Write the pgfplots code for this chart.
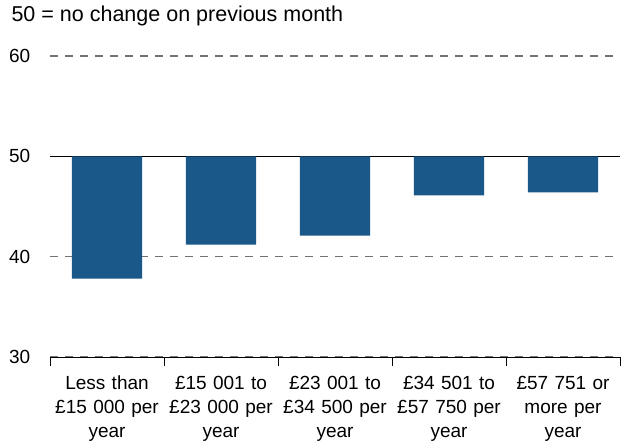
\documentclass[border=0pt]{standalone}
\usepackage{pgfplots}
\pgfplotsset{compat=1.18}
\usepackage{pgfplotstable}
\usepackage{fontspec}
\setmainfont{Liberation Sans}
\definecolor{barblue}{HTML}{1A5889}

% diffusion index by income band (50 = no change)
\pgfplotstableread{
i v
0 37.8
1 41.2
2 42.1
3 46.1
4 46.4
}\incomedata

\begin{document}
\begin{tikzpicture}
\begin{axis}[
    scale only axis,
    width=570bp, height=301bp,
    xmin=-0.5, xmax=4.5,
    ymin=-20, ymax=10,
    axis x line=bottom,
    axis y line=left,
    axis line style={-},
    y axis line style={draw=none},
    x axis line style={black, line width=0.8pt},
    clip=false,
    tick align=outside,
    xtick={0,...,4},
    xticklabels={
        {Less than\\£15 000 per\\year},
        {£15 001 to\\£23 000 per\\year},
        {£23 001 to\\£34 500 per\\year},
        {£34 501 to\\£57 750 per\\year},
        {£57 751 or\\more per\\year}},
    major x tick style={draw=none},
    minor xtick={-0.5,0.5,...,4.5},
    minor tick length=9bp,
    minor x tick style={black, line width=0.8pt},
    xticklabel style={align=center, text width=112bp,
        font=\fontsize{19bp}{24bp}\selectfont, yshift=-11bp},
    ytick={-20,-10,10},
    yticklabels={30,40,60},
    extra y ticks={0},
    extra y tick labels={50},
    extra y tick style={major grid style={black, solid, line width=0.8pt}},
    ytick style={draw=none},
    yticklabel style={font=\fontsize{19bp}{24bp}\selectfont, xshift=-12bp},
    ymajorgrids=true,
    major grid style={black!55, dash pattern=on 8bp off 7bp, line width=1.1pt},
]
\addplot[ybar, bar width=0.615, fill=barblue, draw=none]
    table[x=i, y expr=\thisrow{v}-50] {\incomedata};

\node[anchor=base west, xshift=-42bp, yshift=34bp,
    font=\fontsize{21.5bp}{26bp}\selectfont]
    at (rel axis cs:0,1) {50 = no change on previous month};

\coordinate (bl) at (rel axis cs:0,0);
\coordinate (tr) at (rel axis cs:1,1);
\end{axis}
\pgfresetboundingbox
\path[use as bounding box] ([shift={(-50bp,-87bp)}]bl) rectangle ([shift={(1bp,56bp)}]tr);
\end{tikzpicture}
\end{document}
